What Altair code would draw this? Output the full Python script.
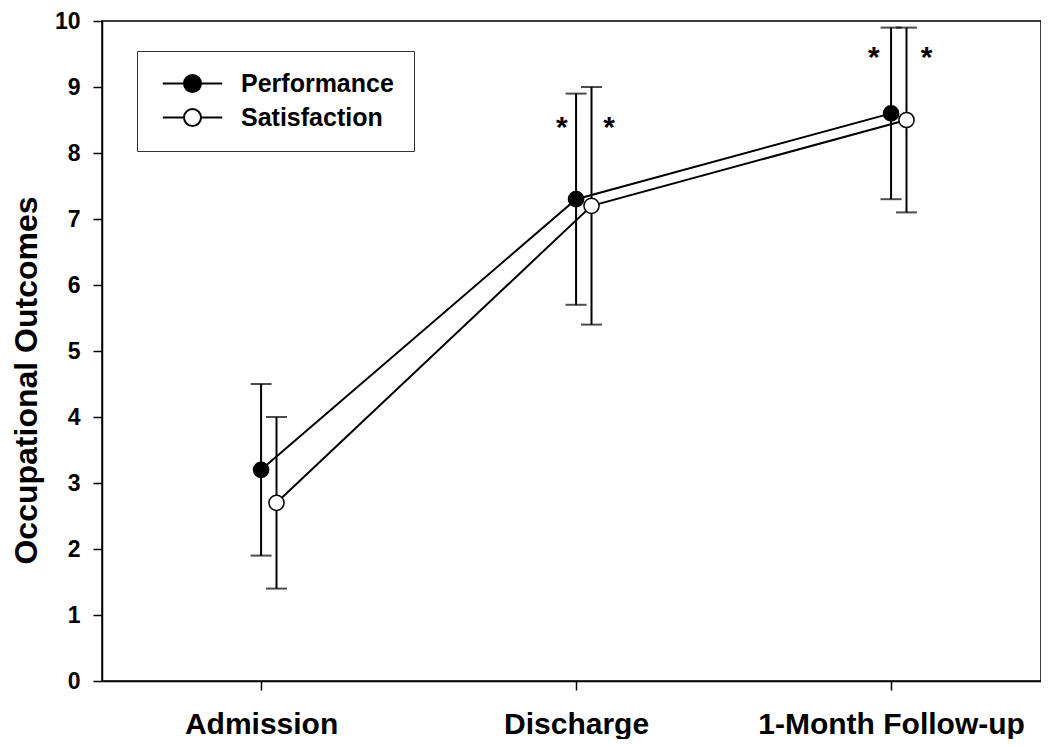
import altair as alt
import pandas as pd

# ---- data ----
timepoints = ["Admission", "Discharge", "1-Month Follow-up"]
series = ["Performance", "Satisfaction"]

perf_mean = [3.2, 7.3, 8.6]
perf_low = [1.9, 5.7, 7.3]
perf_high = [4.5, 8.9, 9.9]

sat_mean = [2.7, 7.2, 8.5]
sat_low = [1.4, 5.4, 7.1]
sat_high = [4.0, 9.0, 9.9]

# significance markers: (timepoint index, horizontal shift in category units, y value)
star_tp = [2, 2, 3, 3]
star_shift = [-0.045, 0.105, -0.055, 0.113]
star_y = [8.25, 8.25, 9.3, 9.3]

# ---- build tables ----
dodge = {"Performance": 0.0, "Satisfaction": 0.049}
rows = []
for s, means, lows, highs in [
    ("Performance", perf_mean, perf_low, perf_high),
    ("Satisfaction", sat_mean, sat_low, sat_high),
]:
    for i, tp in enumerate(timepoints):
        rows.append({
            "series": s,
            "timepoint": tp,
            "x": i + 1 + dodge[s],
            "mean": means[i],
            "low": lows[i],
            "high": highs[i],
        })
df = pd.DataFrame(rows)

stars = pd.DataFrame({
    "x": [t + d for t, d in zip(star_tp, star_shift)],
    "y": star_y,
    "label": ["*"] * len(star_y),
})

label_expr = " : ".join(
    f"datum.value == {i + 1} ? '{tp}'" for i, tp in enumerate(timepoints[:-1])
) + f" : '{timepoints[-1]}'"

x_scale = alt.Scale(domain=[0.495, 3.476], nice=False, zero=False)
y_scale = alt.Scale(domain=[0, 10], nice=False, zero=True)

x_enc = alt.X(
    "x:Q",
    scale=x_scale,
    axis=alt.Axis(
        values=[1, 2, 3],
        labelExpr=label_expr,
        title=None,
        labelFontSize=30,
        labelPadding=19,
        labelBaseline="top",
        labelLimit=0,
        labelOverlap=False,
        labelFlush=False,
    ),
)
y_enc = alt.Y(
    "mean:Q",
    scale=y_scale,
    axis=alt.Axis(
        values=list(range(0, 11)),
        format="d",
        title="Occupational Outcomes",
        titleFontSize=32,
        titleFontWeight="bold",
        titleX=-76,
        titleY=359,
        titleBaseline="middle",
        titleAlign="center",
        titleAngle=270,
        labelFontSize=23,
        labelPadding=13,
    ),
)

base = alt.Chart(df)

lines = base.mark_line(color="black", strokeWidth=2).encode(
    x=x_enc, y=y_enc, detail="series:N", order="x:Q"
)

err = base.mark_rule(color="black", strokeWidth=2).encode(
    x="x:Q", y="low:Q", y2="high:Q"
)
cap_lo = base.mark_tick(orient="horizontal", color="black", size=21, thickness=2).encode(
    x="x:Q", y="low:Q"
)
cap_hi = base.mark_tick(orient="horizontal", color="black", size=21, thickness=2).encode(
    x="x:Q", y="high:Q"
)

legend_symbol = (
    "M-3.5,0L-1,0M1,0L3.5,0"
    "M1,0A1,1,0,1,1,-1,0A1,1,0,1,1,1,0Z"
)

points = base.mark_point(
    shape="circle", filled=True, size=230, stroke="black", strokeWidth=1.5, opacity=1
).encode(
    x="x:Q",
    y="mean:Q",
    fill=alt.Fill(
        "series:N",
        scale=alt.Scale(domain=series, range=["black", "white"]),
        legend=alt.Legend(
            title=None,
            orient="none",
            legendX=35,
            legendY=30,
            symbolType=legend_symbol,
            symbolSize=289,
            symbolStrokeColor="black",
            symbolStrokeWidth=2,
            symbolOffset=23,
            labelOffset=36,
            labelFontSize=25,
            labelFont="Liberation Sans",
            labelFontWeight="bold",
            labelColor="black",
            padding=20,
            rowPadding=8,
            strokeColor="#333333",
            fillColor="white",
        ),
    ),
)

star_text = alt.Chart(stars).mark_text(
    fontSize=30, fontWeight="bold", font="Liberation Sans", color="black", baseline="alphabetic"
).encode(x="x:Q", y="y:Q", text="label:N")

chart = (
    alt.layer(lines, err, cap_lo, cap_hi, points, star_text)
    .properties(
        width=939,
        height=660,
        autosize=alt.AutoSizeParams(type="none"),
        padding={"left": 94, "top": 13, "right": 0, "bottom": 58},
        background="white",
    )
    .configure_view(stroke="black", strokeWidth=1.5)
    .configure_axis(
        grid=False,
        domainColor="black",
        domainWidth=1.5,
        tickColor="black",
        tickWidth=1.5,
        tickSize=9,
        labelFont="Liberation Sans",
        labelFontWeight="bold",
        labelColor="black",
        titleFont="Liberation Sans",
        titleColor="black",
    )
)

chart.save("out.html", embed_options={"renderer": "svg", "actions": False})
